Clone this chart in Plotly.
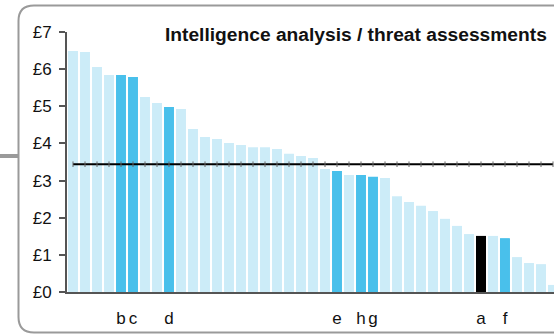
import plotly.graph_objects as go

# ---- data ----
values = [6.49, 6.46, 6.06, 5.84, 5.84, 5.79, 5.25, 5.09, 4.98, 4.93,
          4.39, 4.17, 4.12, 4.01, 3.96, 3.90, 3.90, 3.85, 3.72, 3.66,
          3.61, 3.31, 3.26, 3.15, 3.15, 3.10, 3.07, 2.58, 2.42, 2.32,
          2.18, 1.97, 1.78, 1.56, 1.51, 1.51, 1.45, 0.94, 0.78, 0.75,
          0.19]
labels = ["", "", "", "", "b", "c", "", "", "d", "",
          "", "", "", "", "", "", "", "", "", "",
          "", "", "e", "", "h", "g", "", "", "", "",
          "", "", "", "", "a", "", "f", "", "", "",
          ""]
benchmark = 3.44
y_ticks = [0, 1, 2, 3, 4, 5, 6, 7]
y_ticktext = ["£0", "£1", "£2", "£3", "£4", "£5", "£6", "£7"]
title_text = "Intelligence analysis / threat assessments"

# ---- styling ----
LIGHT = "#CCECF8"
DARK = "#49C0EB"
BLACK = "#000000"
FONT = "Liberation Sans, Arial, sans-serif"

W, H = 554, 334
ML, MR, MT, MB = 67, 0, 32, 42
PW = W - ML - MR
PH = H - MT - MB
PX_PER_BAR = 12.0

idx = list(range(len(values)))
colors = []
for lab in labels:
    if lab == "":
        colors.append(LIGHT)
    elif lab == "a":
        colors.append(BLACK)
    else:
        colors.append(DARK)

tickvals = [i for i, l in zip(idx, labels) if l]
ticktext = [l for l in labels if l]

fig = go.Figure()
fig.add_trace(go.Bar(x=idx, y=values, marker=dict(color=colors, line=dict(width=0)),
                     hoverinfo="skip"))
fig.add_trace(go.Scatter(x=idx, y=[benchmark] * len(idx), mode="lines+markers",
                         line=dict(color="#000000", width=2),
                         marker=dict(symbol="line-ns", size=4,
                                     line=dict(width=1, color="#666666")),
                         hoverinfo="skip"))


def px2paper(px, py):
    return (px - ML) / PW, (H - MB - py) / PH


def P(px, py):
    x, y = px2paper(px, py)
    return f"{x:.5f},{y:.5f}"


r = 15.5
left, top, bot, right = 18.5, 5.5, 332.5, 560
path = (f"M {P(right, top)} L {P(left + r, top)} Q {P(left, top)} {P(left, top + r)} "
        f"L {P(left, bot - r)} Q {P(left, bot)} {P(left + r, bot)} L {P(right, bot)}")

shapes = [
    dict(type="path", xref="paper", yref="paper", path=path,
         line=dict(color="#9A9A9A", width=2), layer="above"),
]
sx0, sy0 = px2paper(0, 156)
sx1, _ = px2paper(18, 156)
shapes.append(dict(type="line", xref="paper", yref="paper", x0=sx0, x1=sx1, y0=sy0, y1=sy0,
                   line=dict(color="#9A9A9A", width=4)))

tx, ty = px2paper(549, 35)

fig.update_layout(
    width=W, height=H,
    margin=dict(l=ML, r=MR, t=MT, b=MB),
    paper_bgcolor="white", plot_bgcolor="white",
    showlegend=False, hovermode=False,
    bargap=0.17,
    font=dict(family=FONT, size=16, color="#111111"),
    shapes=shapes,
    annotations=[dict(text=f"<b>{title_text}</b>", xref="paper", yref="paper",
                      x=tx, y=ty, xanchor="right", yanchor="middle",
                      showarrow=False, font=dict(family=FONT, size=19.2, color="#111111"))],
    xaxis=dict(range=[-0.5, -0.5 + PW / PX_PER_BAR], showgrid=False, zeroline=False,
               showline=True, linecolor="#555555", linewidth=2,
               tickmode="array", tickvals=tickvals, ticktext=ticktext,
               ticks="", ticklabelstandoff=10,
               tickfont=dict(family=FONT, size=17, color="#111111")),
    yaxis=dict(range=[0, 7], showgrid=False, zeroline=False,
               showline=True, linecolor="#555555", linewidth=2,
               tickmode="array", tickvals=y_ticks, ticktext=y_ticktext,
               ticks="outside", ticklen=6, tickwidth=1.5, tickcolor="#555555",
               ticklabelstandoff=4,
               tickfont=dict(family=FONT, size=17, color="#111111")),
)

fig.write_html("out.html", config={"displayModeBar": False},
               post_script="document.body.style.margin='0';")
